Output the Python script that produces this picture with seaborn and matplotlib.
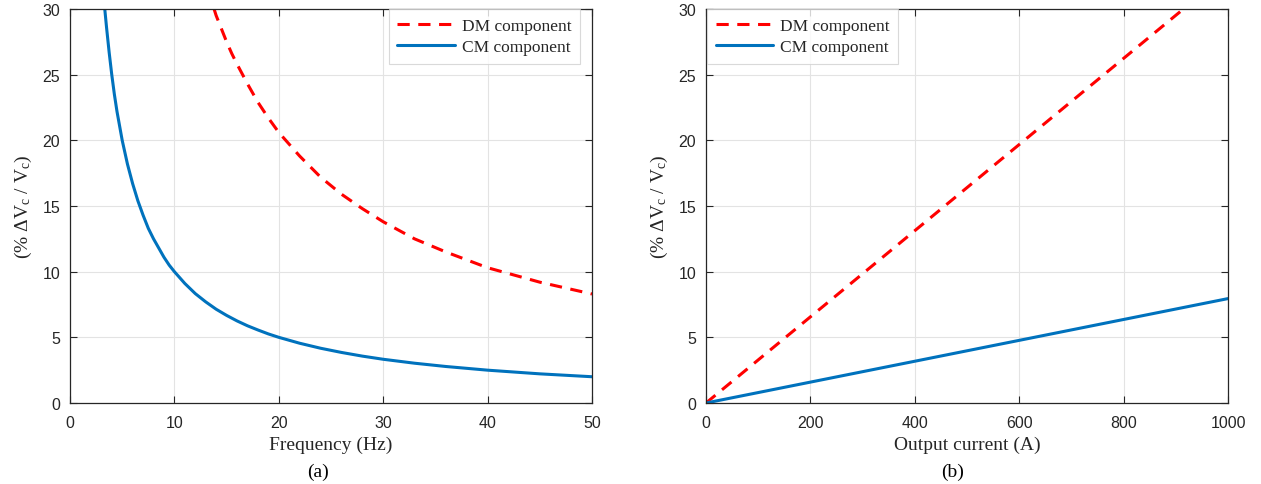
import numpy as np
import pandas as pd
import matplotlib
matplotlib.use("Agg")
import matplotlib.pyplot as plt
import seaborn as sns

# ---- data ----
freq_cm = [3.33, 3.5, 3.75, 4, 4.25, 4.5, 4.75, 5, 5.5, 6, 6.5, 7, 7.5, 8, 8.5, 9, 9.5, 10, 11,
           12, 13, 14, 15, 16, 17, 18, 19, 20, 22, 24, 26, 28, 30, 33, 36, 40, 45, 50]
cm_freq = [30.0, 28.6, 26.7, 25.0, 23.5, 22.2, 21.1, 20.0, 18.2, 16.7, 15.4, 14.3, 13.3, 12.5,
           11.8, 11.1, 10.5, 10.0, 9.1, 8.33, 7.7, 7.14, 6.67, 6.25, 5.88, 5.56, 5.26, 5.0, 4.55,
           4.17, 3.85, 3.57, 3.33, 3.03, 2.78, 2.5, 2.22, 2.0]
freq_dm = [13.8, 14, 14.5, 15, 15.5, 16, 17, 18, 19, 20, 21, 22, 24, 26, 28, 30, 33, 36, 40, 45, 50]
dm_freq = [30.0, 29.5, 28.5, 27.5, 26.6, 25.8, 24.3, 22.9, 21.7, 20.6, 19.7, 18.8, 17.2, 15.9,
           14.8, 13.8, 12.5, 11.5, 10.3, 9.2, 8.3]

current = [0, 1000]
dm_cur = [0, 32.8]
cm_cur = [0, 7.95]

freq_ticks = [0, 10, 20, 30, 40, 50]
cur_ticks = [0, 200, 400, 600, 800, 1000]
y_ticks = [0, 5, 10, 15, 20, 25, 30]

# ---- style ----
sns.set_style("ticks")
plt.rcParams["font.family"] = ["Liberation Sans", "DejaVu Sans"]
plt.rcParams["mathtext.fontset"] = "custom"
plt.rcParams["mathtext.rm"] = "Liberation Serif"
plt.rcParams["mathtext.it"] = "Liberation Serif:italic"
plt.rcParams["mathtext.sf"] = "Liberation Serif"

DM_COLOR = "#FF0000"
CM_COLOR = "#0072BD"
TXT = "#262626"

fig = plt.figure(figsize=(12.61, 4.85), dpi=100)
W, H = 1261, 485
axA = fig.add_axes([70 / W, 1 - 404 / H, (592 - 70) / W, (404 - 10) / H])
axB = fig.add_axes([706 / W, 1 - 404 / H, (1228 - 706) / W, (404 - 10) / H])

serif = ["Liberation Serif", "DejaVu Serif"]

def style(ax, xticks, xlim, xlabel):
    ax.set_xlim(*xlim)
    ax.set_ylim(0, 30)
    ax.set_xticks(xticks)
    ax.set_yticks(y_ticks)
    ax.grid(True, color="#e3e3e3", linewidth=0.8)
    ax.set_axisbelow(True)
    ax.tick_params(direction="in", top=True, right=True, length=5, width=0.8,
                   labelsize=11.5, colors=TXT, labelcolor=TXT, pad=7)
    ax.tick_params(axis="x", pad=9)
    for s in ax.spines.values():
        s.set_visible(True)
        s.set_color(TXT)
        s.set_linewidth(0.9)
    ax.set_xlabel(xlabel, fontfamily=serif, fontsize=14, color=TXT, labelpad=4)
    ax.set_ylabel(r"(% $\Delta$V$_\mathrm{c}$ / V$_\mathrm{c}$)", fontfamily=serif,
                  fontsize=14, color=TXT, labelpad=6)

df_a_dm = pd.DataFrame({"x": freq_dm, "y": dm_freq})
df_a_cm = pd.DataFrame({"x": freq_cm, "y": cm_freq})
sns.lineplot(data=df_a_dm, x="x", y="y", ax=axA, color=DM_COLOR, linewidth=2.2,
             linestyle=(0, (4, 2.8)), label="DM component")
sns.lineplot(data=df_a_cm, x="x", y="y", ax=axA, color=CM_COLOR, linewidth=2.2,
             label="CM component")
style(axA, freq_ticks, (0, 50), "Frequency (Hz)")

df_b_dm = pd.DataFrame({"x": current, "y": dm_cur})
df_b_cm = pd.DataFrame({"x": current, "y": cm_cur})
sns.lineplot(data=df_b_dm, x="x", y="y", ax=axB, color=DM_COLOR, linewidth=2.2,
             linestyle=(0, (4, 2.8)), label="DM component")
sns.lineplot(data=df_b_cm, x="x", y="y", ax=axB, color=CM_COLOR, linewidth=2.2,
             label="CM component")
style(axB, cur_ticks, (0, 1000), "Output current (A)")

for ax, loc in ((axA, "upper right"), (axB, "upper left")):
    leg = ax.legend(loc=loc, prop={"family": serif, "size": 12.5}, frameon=True,
                    fancybox=False, borderaxespad=0.0, handlelength=3.3,
                    borderpad=0.5, labelspacing=0.3, handletextpad=0.4)
    leg.get_frame().set_edgecolor("#d0d0d0")
    leg.get_frame().set_linewidth(0.8)
    for t in leg.get_texts():
        t.set_color(TXT)

axA.get_legend().set_bbox_to_anchor((580 / W, 1 - 10 / H), transform=fig.transFigure)
axB.get_legend().set_bbox_to_anchor((707 / W, 1 - 10 / H), transform=fig.transFigure)

fig.text(318 / W, 1 - 472 / H, "(a)", ha="center", va="center", fontfamily=serif,
         fontsize=14, color="black")
fig.text(953 / W, 1 - 472 / H, "(b)", ha="center", va="center", fontfamily=serif,
         fontsize=14, color="black")

fig.savefig("out.png", dpi=100)
